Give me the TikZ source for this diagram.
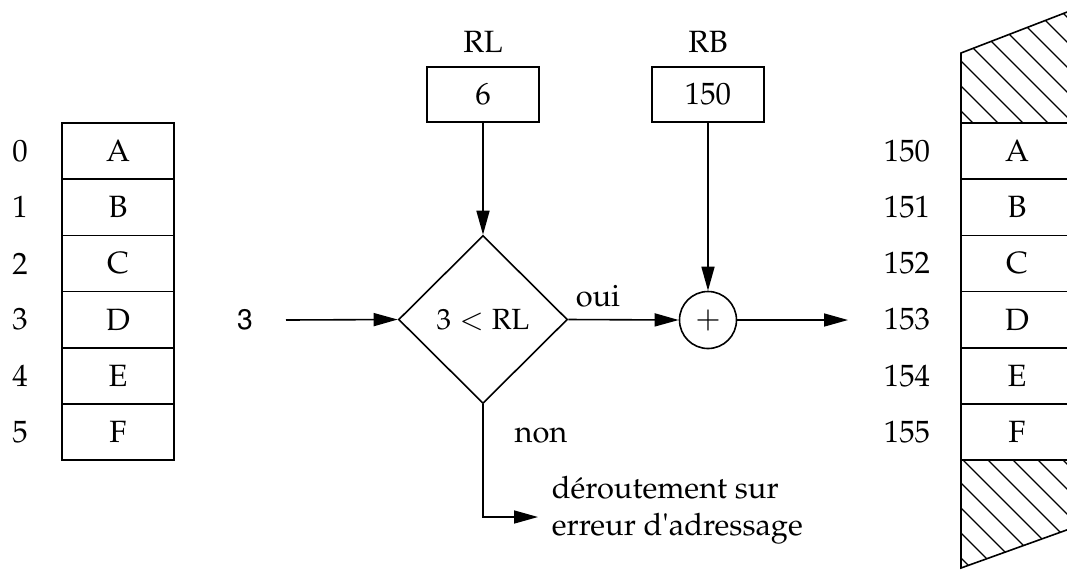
\documentclass[tikz,border=0pt]{standalone}
\usepackage[T1]{fontenc}
\usepackage{mathpazo}
\usepackage[scaled=0.92]{helvet}
\usetikzlibrary{arrows.meta,shapes.geometric}

\tikzset{
  cell/.style={draw,line width=0.8pt,minimum width=56pt,minimum height=28.1pt,inner sep=0pt},
  reg/.style={draw,line width=0.8pt,minimum width=56pt,minimum height=27.5pt,inner sep=0pt},
  test/.style={draw,diamond,line width=0.8pt,minimum width=84.5pt,minimum height=84pt,inner sep=0pt,
    font=\fontsize{14.6}{18.5}\selectfont},
  adder/.style={draw,circle,line width=0.8pt,minimum size=28.5pt,inner sep=0pt},
  flow/.style={line width=0.8pt,-{Triangle[length=12pt,width=6.5pt]}},
  hatch/.style={line width=0.6pt},
  lbl/.style={inner sep=0.75pt},
}

\begin{document}
\begin{tikzpicture}[x=0.5pt,y=0.5pt,yscale=-1,font=\fontsize{15.4}{18.5}\selectfont]
\useasboundingbox (0,0) rectangle (1067,570);

% logical address space
\foreach \i/\l in {0/A,1/B,2/C,3/D,4/E,5/F}{
  \node[cell] (log\i) at (118,{151.1+56.17*\i}) {\l};
  \node[lbl] (li\i) at (20,{151.1+56.17*\i}) {\i};
}

% physical memory
\begin{scope}
\clip (0,0) rectangle (1067,570);
\foreach \i/\l in {0/A,1/B,2/C,3/D,4/E,5/F}{
  \pgfmathtruncatemacro\addr{150+\i}
  \node[cell] (phy\i) at (1017,{151.1+56.17*\i}) {\l};
  \node[lbl] (pi\i) at (907,{151.1+56.17*\i}) {\addr};
}
\draw[line width=0.8pt] (961,123) -- (961,53) -- (1075,9);
\draw[line width=0.8pt] (961,460) -- (961,568) -- (1075,527);
\begin{scope}
\clip (961,123) -- (961,53) -- (1075,9) -- (1075,123) -- cycle;
\foreach \c in {825,850,...,1075} \draw[hatch] ({\c},0) -- ({\c+130},130);
\end{scope}
\begin{scope}
\clip (961,460) -- (961,568) -- (1075,527) -- (1075,460) -- cycle;
\foreach \c in {378,403,...,628} \draw[hatch] ({\c+450},450) -- ({\c+580},580);
\end{scope}
\end{scope}

% registers
\node[lbl] (rl) at (483,42) {RL};
\node[reg] (rlv) at (483,94.5) {6};
\node[lbl] (rb) at (708,42) {RB};
\node[reg] (rbv) at (708,94.5) {150};

\node[test] (cmp) at (483,319.5) {$3<\mathrm{RL}$};
\node[adder] (add) at (708,320) {$+$};
\node[lbl] (idx) at (245,320) {\textsf{3}};
\coordinate (in) at (286,320);
\coordinate (out) at (848,320);
\coordinate (trap) at (538,517);

\draw[flow] (in) -- (cmp.west);
\draw[flow] (rlv.south) -- (cmp.north);
\draw[flow] (rbv.south) -- (add.north);
\draw[flow] (cmp.east) -- (add.west);
\draw[flow] (add.east) -- (out);
\draw[flow] (cmp.south) |- (trap);

\node[lbl] (yes) at (598,296) {oui};
\node[lbl] (no) at (541,435) {non};
\node[lbl,anchor=west,align=left] (err) at (550,510) {d\'eroutement sur\\erreur d\textquotesingle adressage};

\end{tikzpicture}
\end{document}
